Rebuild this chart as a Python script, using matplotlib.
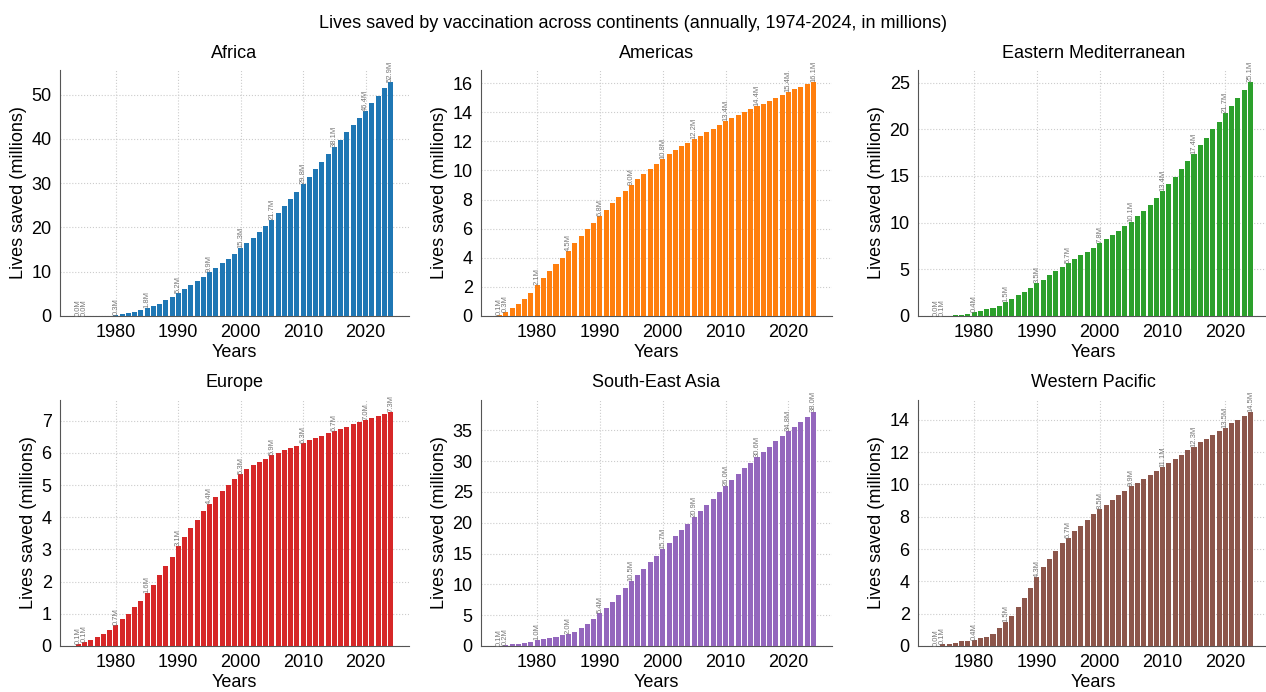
import numpy as np
import matplotlib
matplotlib.use("Agg")
import matplotlib.pyplot as plt
from matplotlib.ticker import MaxNLocator

plt.rcParams["font.family"] = ["Liberation Sans", "DejaVu Sans"]

years = np.arange(1974, 2025)

africa = [0.0, 0.0, 0.0, 0.02, 0.05, 0.1, 0.3, 0.5, 0.7, 1.0, 1.3, 1.8, 2.2, 2.8, 3.5, 4.3,
          5.2, 6.1, 6.9, 7.9, 8.8, 9.9, 10.8, 11.9, 12.9, 14.1, 15.3, 16.5, 17.7, 18.9, 20.3,
          21.7, 23.2, 24.8, 26.4, 28.1, 29.8, 31.4, 33.1, 34.8, 36.5, 38.1, 39.8, 41.5, 43.1,
          44.8, 46.4, 48.1, 49.7, 51.4, 52.9]
americas = [0.1, 0.3, 0.55, 0.8, 1.2, 1.6, 2.1, 2.6, 3.1, 3.6, 4.0, 4.5, 5.0, 5.5, 5.95, 6.4,
            6.85, 7.3, 7.75, 8.15, 8.6, 9.0, 9.4, 9.75, 10.1, 10.45, 10.8, 11.1, 11.4, 11.65,
            11.9, 12.15, 12.4, 12.65, 12.85, 13.1, 13.4, 13.6, 13.8, 14.0, 14.2, 14.4, 14.6,
            14.8, 15.0, 15.2, 15.4, 15.6, 15.75, 15.95, 16.1]
eastern_med = [0.0, 0.05, 0.05, 0.08, 0.12, 0.2, 0.4, 0.5, 0.7, 0.85, 1.1, 1.5, 1.8, 2.2, 2.6,
               3.0, 3.5, 3.9, 4.35, 4.8, 5.2, 5.7, 6.1, 6.5, 6.9, 7.3, 7.8, 8.2, 8.65, 9.1, 9.6,
               10.1, 10.7, 11.3, 11.9, 12.6, 13.4, 14.1, 14.9, 15.7, 16.6, 17.4, 18.3, 19.1,
               20.0, 20.8, 21.7, 22.5, 23.4, 24.2, 25.1]
europe = [0.05, 0.13, 0.2, 0.28, 0.38, 0.5, 0.65, 0.83, 0.98, 1.2, 1.4, 1.65, 1.9, 2.2, 2.5,
          2.78, 3.1, 3.4, 3.68, 3.93, 4.18, 4.42, 4.62, 4.82, 5.0, 5.18, 5.35, 5.5, 5.63, 5.73,
          5.82, 5.92, 6.0, 6.08, 6.16, 6.23, 6.31, 6.39, 6.46, 6.54, 6.61, 6.68, 6.75, 6.82,
          6.89, 6.95, 7.02, 7.09, 7.15, 7.22, 7.28]
se_asia = [0.05, 0.2, 0.3, 0.4, 0.55, 0.7, 1.0, 1.2, 1.35, 1.5, 1.75, 2.0, 2.3, 2.9, 3.5, 4.4,
           5.4, 6.2, 7.2, 8.3, 9.4, 10.5, 11.5, 12.5, 13.6, 14.6, 15.7, 16.7, 17.8, 18.8, 19.8,
           20.9, 21.9, 22.9, 23.9, 25.0, 26.0, 26.9, 27.9, 28.8, 29.7, 30.6, 31.4, 32.3, 33.2,
           34.0, 34.8, 35.6, 36.4, 37.2, 38.0]
western_pac = [0.0, 0.1, 0.15, 0.2, 0.28, 0.33, 0.4, 0.48, 0.55, 0.72, 1.1, 1.5, 1.85, 2.4, 3.0,
               3.6, 4.3, 4.9, 5.4, 5.9, 6.35, 6.7, 7.1, 7.45, 7.8, 8.15, 8.5, 8.75, 9.05, 9.35,
               9.6, 9.9, 10.1, 10.35, 10.6, 10.85, 11.1, 11.35, 11.6, 11.85, 12.1, 12.3, 12.6,
               12.8, 13.05, 13.3, 13.5, 13.8, 14.0, 14.25, 14.5]

label_override = {
    "Eastern Mediterranean": {1975: 0.1},
    "Europe": {1974: 0.1},
    "South-East Asia": {1974: 0.1},
}

regions = ["Africa", "Americas", "Eastern Mediterranean",
           "Europe", "South-East Asia", "Western Pacific"]
series = [africa, americas, eastern_med, europe, se_asia, western_pac]
colors = ["#1f77b4", "#ff7f0e", "#2ca02c", "#d62728", "#9467bd", "#8c564b"]

W, H = 1266, 692
fig = plt.figure(figsize=(W / 100, H / 100), dpi=100)

# axes boxes in pixels: left, right, top, bottom
cols = [(60, 409), (481, 832), (918, 1269)]
rows = [(70, 316), (400, 646)]

for i, (name, vals, col) in enumerate(zip(regions, series, colors)):
    l, r = cols[i % 3]
    t, b = rows[i // 3]
    ax = fig.add_axes([l / W, 1 - b / H, (r - l) / W, (b - t) / H])
    ax.bar(years, vals, width=0.8, color=col, zorder=3)
    ax.set_axisbelow(True)
    ax.grid(True, linestyle=":", color="#cccccc", linewidth=0.8)
    for s in ["top", "right"]:
        ax.spines[s].set_visible(False)
    for s in ["left", "bottom"]:
        ax.spines[s].set_color("#555555")
    ax.set_xticks([1980, 1990, 2000, 2010, 2020])
    ax.yaxis.set_major_locator(MaxNLocator(nbins=9, steps=[1, 2, 5, 10], integer=True))
    ax.tick_params(axis="both", length=0, labelsize=13, pad=6)
    ax.set_title(name, fontsize=13, pad=9)
    ax.set_xlabel("Years", fontsize=13, labelpad=2)
    ax.set_ylabel("Lives saved (millions)", fontsize=13, labelpad=3)

    over = label_override.get(name, {})
    for y, v in zip(years, vals):
        if y % 5 == 0 or y == years[0] or y == years[-1]:
            shown = over.get(y, v)
            ax.text(y, v, f"{shown:.1f}M", rotation=90, ha="center", va="bottom",
                    fontsize=5.5, color="#777777", zorder=4)

fig.suptitle("Lives saved by vaccination across continents (annually, 1974-2024, in millions)",
             fontsize=13, y=0.978)

fig.savefig("out.png", dpi=100)
